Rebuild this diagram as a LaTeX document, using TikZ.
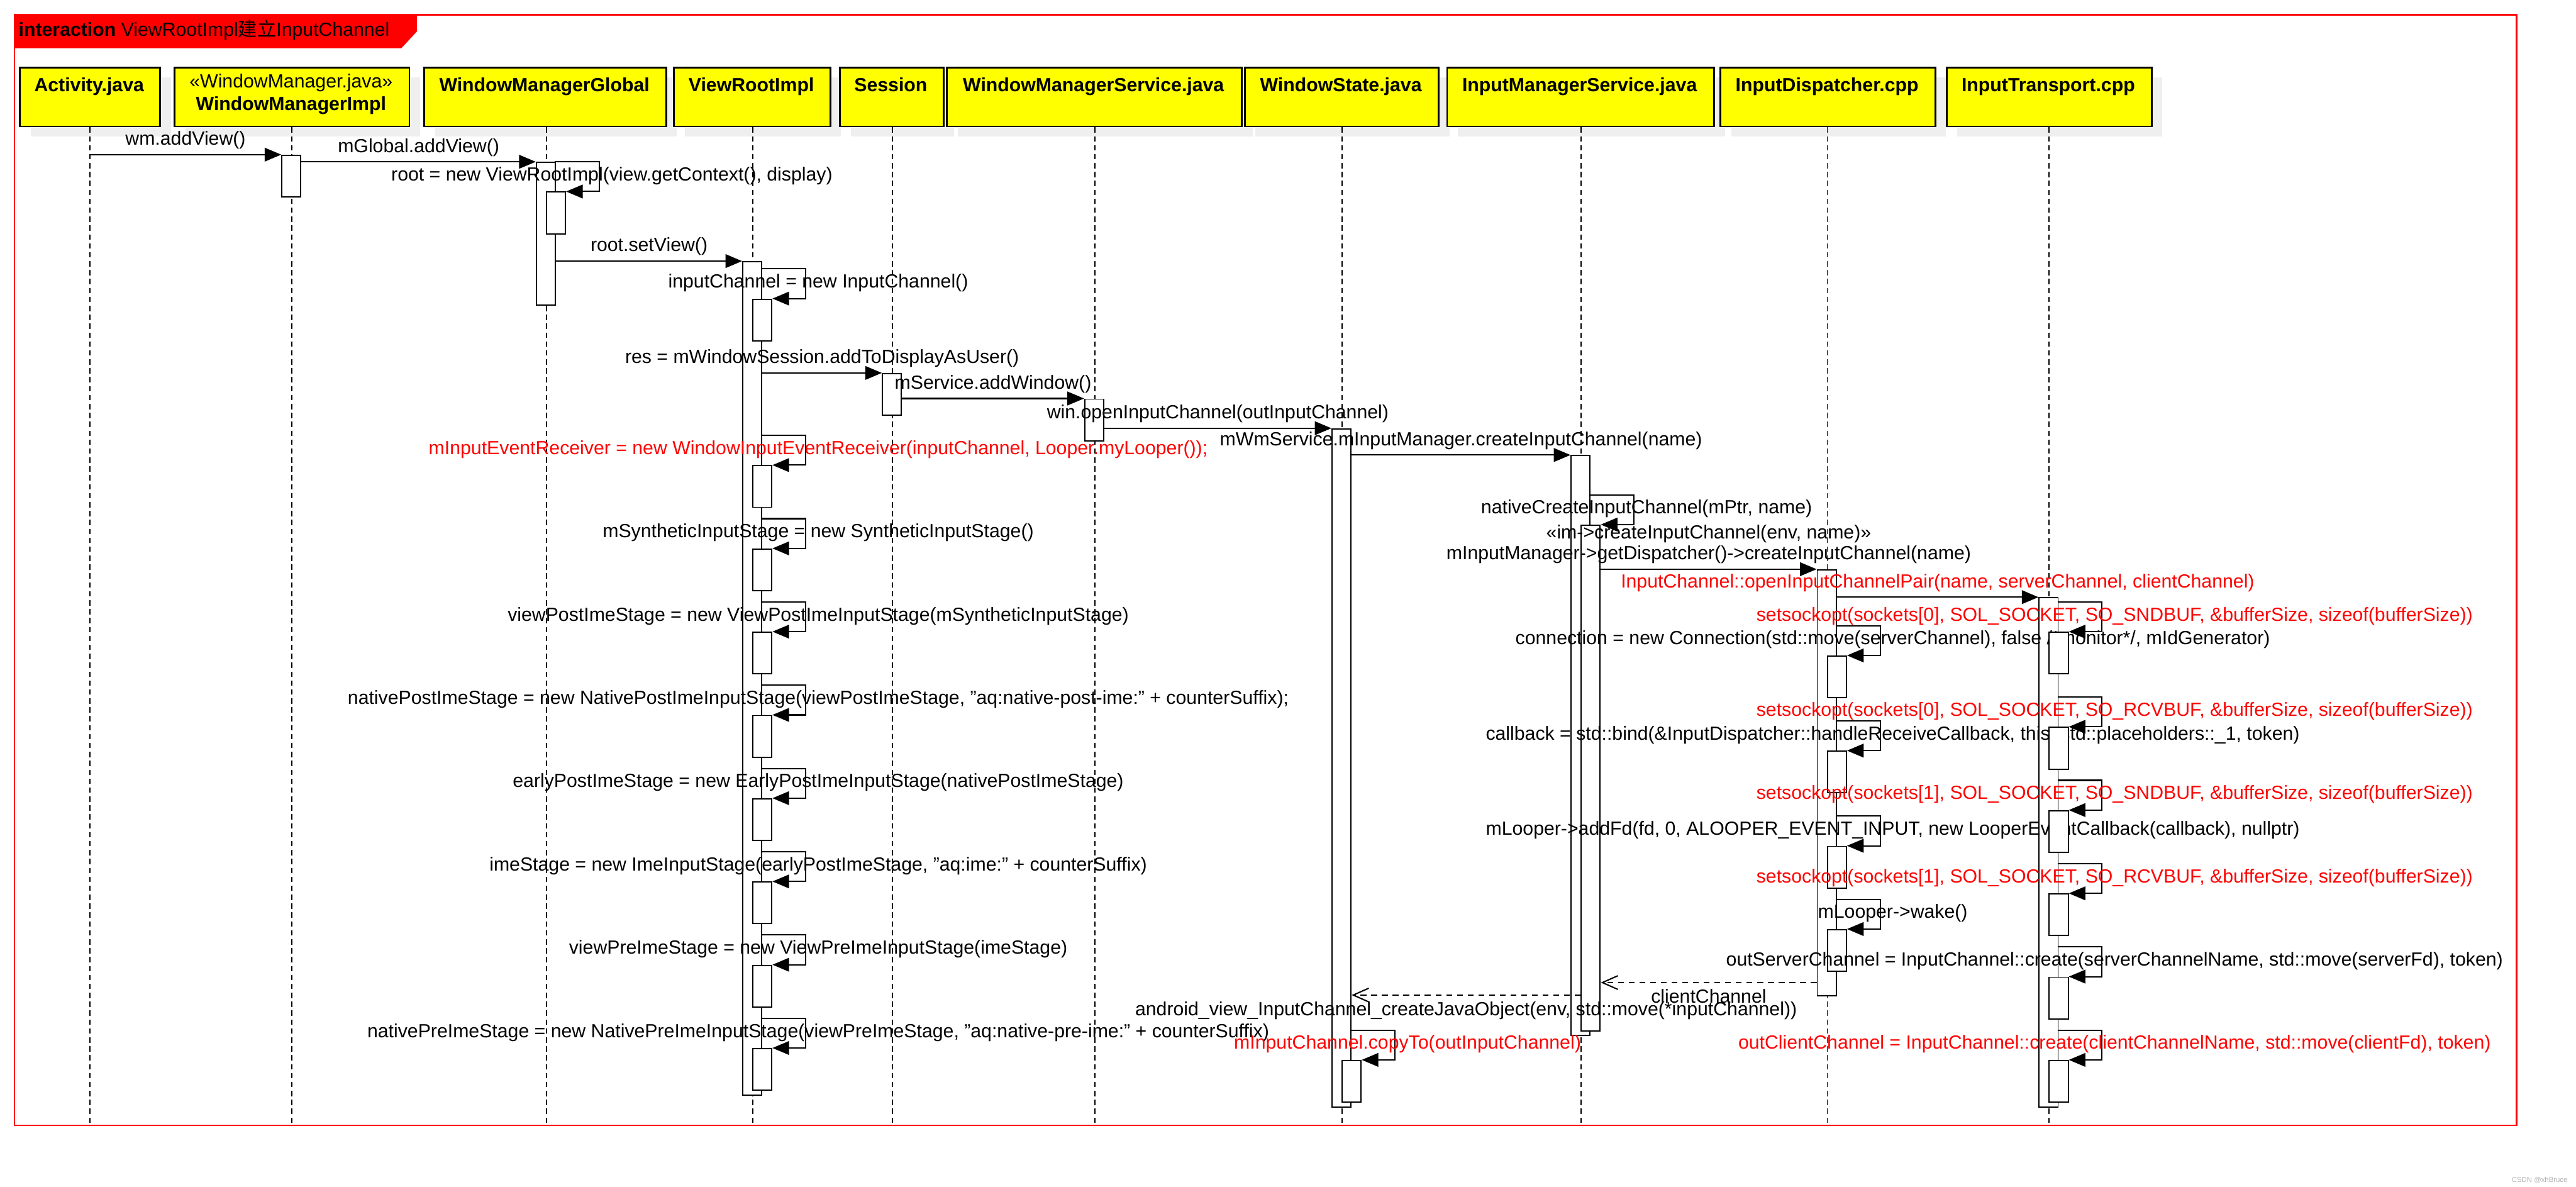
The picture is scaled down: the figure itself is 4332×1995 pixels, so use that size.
\documentclass[tikz,border=0pt]{standalone}
\usepackage{fontspec}
\setmainfont{Liberation Sans}
\newfontfamily\cjkfont{Noto Sans CJK SC}
\usetikzlibrary{arrows.meta,shadows}
\definecolor{fred}{HTML}{FF0000}
\definecolor{hyel}{HTML}{FFFF00}
\definecolor{shad}{HTML}{EFEFEF}
\tikzset{
  hdr/.style={draw=black, line width=1.5pt, fill=hyel, anchor=north west, minimum height=49.5pt, inner sep=0pt,
    drop shadow={shadow xshift=9pt, shadow yshift=-8.5pt, fill=shad, opacity=1, draw=none}},
  htxt/.style={anchor=base, inner sep=0pt},
  life/.style={line width=0.9pt, dash pattern=on 4.5pt off 3pt},
  act/.style={draw=black, line width=1pt, fill=white, minimum width=16pt, anchor=north west, inner sep=0pt},
  msg/.style={line width=1.1pt, -{Triangle[length=14pt, width=11.5pt]}},
  ret/.style={line width=1.1pt, dash pattern=on 5pt off 4pt, -{Straight Barb[length=13pt, width=11.5pt]}},
  lbl/.style={anchor=base, inner sep=0pt},
  msgup/.style={midway, anchor=base, yshift=8pt, inner sep=0pt},
  msguptwo/.style={midway, anchor=base, yshift=25.5pt, inner sep=0pt},
  msgdown/.style={midway, anchor=base, yshift=-17pt, inner sep=0pt},
}
% #1 name, #2 lifeline x, #3 top y, #4 label, #5 colour, #6 nested box height (px)
\newcommand{\selfcall}[6]{%
  \node[act, minimum height=#6*0.5pt] (#1) at (#2-1, #3+50) {};
  \coordinate (#1-a) at (#2+14, #3);
  \coordinate (#1-b) at (#2+89, #3);
  \draw[msg] (#1-a) -- (#1-b) |- (#1.north east);
  \node[lbl, text=#5] (#1-t) at (#2+110, #3+32) {#4};
}
\begin{document}
\begin{tikzpicture}[x=0.5pt, y=-0.5pt, every node/.style={font=\fontsize{16}{19}\selectfont, inner sep=0pt}]
\useasboundingbox (0,0) rectangle (4332,1995);
\fill[white] (0,0) rectangle (4332,1995);
% frame
\draw[fred, line width=1.2pt] (24,25) rectangle (4232,1892);
\fill[fred] (24,25) -- (701,25) -- (701,53) -- (675,81) -- (24,81) -- cycle;
\node[anchor=base west] (title) at (31,61) {\textbf{interaction} ViewRootImpl{\cjkfont 建立}InputChannel};
% headers
\node[hdr, minimum width=118pt] (hAct) at (32,112) {};
\node[hdr, minimum width=197.5pt] (hWMI) at (292,112) {};
\node[hdr, minimum width=203.5pt] (hWMG) at (712,112) {};
\node[hdr, minimum width=131.5pt] (hVRI) at (1132,112) {};
\node[hdr, minimum width=87pt] (hSes) at (1411,112) {};
\node[hdr, minimum width=248pt] (hWMS) at (1591,112) {};
\node[hdr, minimum width=163pt] (hWS) at (2092,112) {};
\node[hdr, minimum width=224.5pt] (hIMS) at (2432,112) {};
\node[hdr, minimum width=180.5pt] (hID) at (2892,112) {};
\node[hdr, minimum width=172.5pt] (hIT) at (3272,112) {};
\node[htxt] (tAct) at (150,154) {\textbf{Activity.java}};
\node[htxt] (tWMIa) at (489.5,148) {«WindowManager.java»};
\node[htxt] (tWMIb) at (489.5,186) {\textbf{WindowManagerImpl}};
\node[htxt] (tWMG) at (915.5,154) {\textbf{WindowManagerGlobal}};
\node[htxt] (tVRI) at (1263.5,154) {\textbf{ViewRootImpl}};
\node[htxt] (tSes) at (1498,154) {\textbf{Session}};
\node[htxt] (tWMS) at (1839,154) {\textbf{WindowManagerService.java}};
\node[htxt] (tWS) at (2255,154) {\textbf{WindowState.java}};
\node[htxt] (tIMS) at (2656.5,154) {\textbf{InputManagerService.java}};
\node[htxt] (tID) at (3072.5,154) {\textbf{InputDispatcher.cpp}};
\node[htxt] (tIT) at (3444.5,154) {\textbf{InputTransport.cpp}};
% lifelines
\foreach \n/\x in {Act/151, WMI/491, WMG/919, VRI/1266, Ses/1501, WMS/1841, WS/2257, IMS/2659, ID/3073, IT/3446} {
  \coordinate (e\n) at (\x,1892);
  \draw[life] (h\n.south -| e\n) -- (e\n);
}
% activations
\node[act, minimum height=35pt] (aWMI) at (473,260) {};
\node[act, minimum height=120pt] (aWMG) at (901,272) {};
\node[act, minimum height=700.5pt] (aVRI) at (1248,439) {};
\node[act, minimum height=35pt] (aSes) at (1483,627) {};
\node[act, minimum height=35pt] (aWMS) at (1823,670) {};
\node[act, minimum height=570pt] (aWS) at (2239,720) {};
\node[act, minimum height=487.5pt] (aIMS) at (2641,765) {};
\node[act, minimum height=358pt] (aID) at (3055,957) {};
\node[act, minimum height=428pt] (aIT) at (3428,1004) {};
% self calls
\selfcall{nWMG}{919}{272}{root = new ViewRootImpl(view.getContext(), display)}{black}{70}
\selfcall{nVa}{1266}{452}{inputChannel = new InputChannel()}{black}{70}
\selfcall{nVb}{1266}{732}{mInputEventReceiver = new WindowInputEventReceiver(inputChannel, Looper.myLooper());}{fred}{70}
\selfcall{nVc}{1266}{872}{mSyntheticInputStage = new SyntheticInputStage()}{black}{70}
\selfcall{nVd}{1266}{1012}{viewPostImeStage = new ViewPostImeInputStage(mSyntheticInputStage)}{black}{70}
\selfcall{nVe}{1266}{1152}{nativePostImeStage = new NativePostImeInputStage(viewPostImeStage, "aq:native-post-ime:" + counterSuffix);}{black}{70}
\selfcall{nVf}{1266}{1292}{earlyPostImeStage = new EarlyPostImeInputStage(nativePostImeStage)}{black}{70}
\selfcall{nVg}{1266}{1432}{imeStage = new ImeInputStage(earlyPostImeStage, "aq:ime:" + counterSuffix)}{black}{70}
\selfcall{nVh}{1266}{1572}{viewPreImeStage = new ViewPreImeInputStage(imeStage)}{black}{70}
\selfcall{nVi}{1266}{1712}{nativePreImeStage = new NativePreImeInputStage(viewPreImeStage, "aq:native-pre-ime:" + counterSuffix)}{black}{70}
\selfcall{nIMS}{2659}{832}{nativeCreateInputChannel(mPtr, name)}{black}{850}
\selfcall{nDa}{3073}{1052}{connection = new Connection(std::move(serverChannel), false /*monitor*/, mIdGenerator)}{black}{70}
\selfcall{nDb}{3073}{1212}{callback = std::bind(\&InputDispatcher::handleReceiveCallback, this, std::placeholders::\_1, token)}{black}{70}
\selfcall{nDc}{3073}{1372}{mLooper->addFd(fd, 0, ALOOPER\_EVENT\_INPUT, new LooperEventCallback(callback), nullptr)}{black}{70}
\selfcall{nDd}{3073}{1512}{mLooper->wake()}{black}{70}
\selfcall{nTa}{3446}{1012}{setsockopt(sockets[0], SOL\_SOCKET, SO\_SNDBUF, \&bufferSize, sizeof(bufferSize))}{fred}{70}
\selfcall{nTb}{3446}{1172}{setsockopt(sockets[0], SOL\_SOCKET, SO\_RCVBUF, \&bufferSize, sizeof(bufferSize))}{fred}{70}
\selfcall{nTc}{3446}{1312}{setsockopt(sockets[1], SOL\_SOCKET, SO\_SNDBUF, \&bufferSize, sizeof(bufferSize))}{fred}{70}
\selfcall{nTd}{3446}{1452}{setsockopt(sockets[1], SOL\_SOCKET, SO\_RCVBUF, \&bufferSize, sizeof(bufferSize))}{fred}{70}
\selfcall{nTe}{3446}{1592}{outServerChannel = InputChannel::create(serverChannelName, std::move(serverFd), token)}{black}{70}
\selfcall{nTf}{3446}{1732}{outClientChannel = InputChannel::create(clientChannelName, std::move(clientFd), token)}{fred}{70}
\selfcall{nWa}{2257}{1732}{mInputChannel.copyTo(outInputChannel)}{fred}{70}
% messages
\coordinate (sAct) at (151,260);
\draw[msg] (sAct) -- (aWMI.north west) node[msgup] {wm.addView()};
\draw[msg] (aWMI.east |- aWMG.north) -- (aWMG.north west) node[msgup] {mGlobal.addView()};
\draw[msg] (aWMG.east |- aVRI.north) -- (aVRI.north west) node[msgup] {root.setView()};
\draw[msg] (aVRI.east |- aSes.north) -- (aSes.north west) node[msgup] {res = mWindowSession.addToDisplayAsUser()};
\draw[msg] (aSes.east |- aWMS.north) -- (aWMS.north west) node[msgup] {mService.addWindow()};
\draw[msg] (aWMS.east |- aWS.north) -- (aWS.north west) node[msgup] {win.openInputChannel(outInputChannel)};
\draw[msg] (aWS.east |- aIMS.north) -- (aIMS.north west) node[msgup] {mWmService.mInputManager.createInputChannel(name)};
\draw[msg] (nIMS.east |- aID.north) -- (aID.north west)
  node[msgup] {mInputManager->getDispatcher()->createInputChannel(name)}
  node[msguptwo] {«im->createInputChannel(env, name)»};
\draw[msg] (aID.east |- aIT.north) -- (aIT.north west) node[msgup, text=fred] {InputChannel::openInputChannelPair(name, serverChannel, clientChannel)};
% returns
\coordinate (cRa) at (0,1652);
\draw[ret] (aID.west |- cRa) -- (nIMS.east |- cRa) node[msgdown] {clientChannel};
\coordinate (cRb) at (0,1673);
\draw[ret] (nIMS.west |- cRb) -- (aWS.east |- cRb) node[msgdown] {android\_view\_InputChannel\_createJavaObject(env, std::move(*inputChannel))};
% watermark
\node[font=\fontsize{6}{7}\selectfont, text=gray!60, anchor=base east] (wmark) at (4318,1988) {CSDN @xhBruce};
\end{tikzpicture}
\end{document}
